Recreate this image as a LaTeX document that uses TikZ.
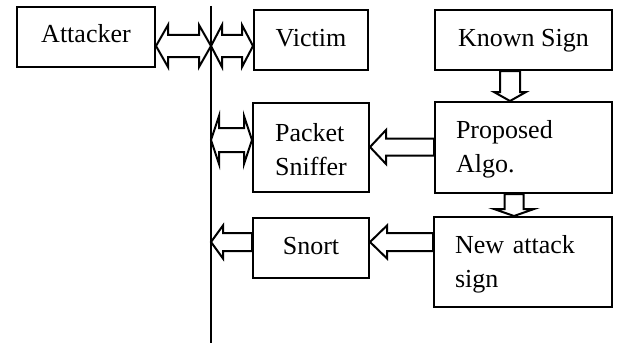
\documentclass[tikz,border=0pt]{standalone}
\usepackage{fontspec}
\setmainfont{Liberation Serif}
\usetikzlibrary{calc}

% hollow block arrows
% horizontal double arrow: #1 left tip, #2 right tip, #3 shaft half width, #4 head half width, #5 head length
\newcommand\dblarrow[5]{%
  \draw[arr] (#1) -- ($(#1)+(#5,-#4)$) -- ($(#1)+(#5,-#3)$) -- ($(#2)+(-#5,-#3)$)
    -- ($(#2)+(-#5,-#4)$) -- (#2) -- ($(#2)+(-#5,#4)$) -- ($(#2)+(-#5,#3)$)
    -- ($(#1)+(#5,#3)$) -- ($(#1)+(#5,#4)$) -- cycle;}
% left-pointing arrow: #1 tail, #2 tip
\newcommand\leftarrowblk[5]{%
  \draw[arr] (#2) -- ($(#2)+(#5,-#4)$) -- ($(#2)+(#5,-#3)$) -- ($(#1)+(0,-#3)$)
    -- ($(#1)+(0,#3)$) -- ($(#2)+(#5,#3)$) -- ($(#2)+(#5,#4)$) -- cycle;}
% down-pointing arrow: #1 tail, #2 tip
\newcommand\downarrowblk[5]{%
  \draw[arr] (#2) -- ($(#2)+(-#4,-#5)$) -- ($(#2)+(-#3,-#5)$) -- ($(#1)+(-#3,0)$)
    -- ($(#1)+(#3,0)$) -- ($(#2)+(#3,-#5)$) -- ($(#2)+(#4,-#5)$) -- cycle;}
% taller first line, so two-line labels sit a little lower
\newcommand\tallstrut{\rule{0pt}{22pt}}

\begin{document}
\begin{tikzpicture}[x=1pt,y=-1pt,
  box/.style={draw,line width=2pt,inner sep=0pt,
    font=\fontsize{26}{34}\selectfont},
  single/.style={box,text height=18pt,text depth=6pt},
  multi/.style={box,align=left},
  arr/.style={draw,line width=2pt,fill=white,line join=miter}]
\useasboundingbox (0,0) rectangle (617,345);

% network bus
\coordinate (bus) at (211,6);
\coordinate (busend) at (211,343);
\draw[line width=2pt] (bus) -- (busend);

% blocks
\node[single,minimum width=138pt,minimum height=60pt] (att) at (86,37) {Attacker};
\node[single,minimum width=114pt,minimum height=60pt] (vic) at (311,40) {Victim};
\node[multi,minimum width=116pt,minimum height=89pt] (sniff) at (311,147.5) {\tallstrut Packet\\Sniffer};
\node[single,minimum width=116pt,minimum height=60pt] (snort) at (311,248) {Snort};
\node[single,minimum width=177pt,minimum height=60pt] (known) at (523.5,40) {Known Sign};
\node[multi,minimum width=177pt,minimum height=91pt,text width=135pt,inner xsep=21pt] (algo) at (523.5,147.5) {\tallstrut Proposed\\Algo.};
\node[multi,minimum width=178pt,minimum height=90pt,text width=136pt,inner xsep=21pt] (newsig) at (523,262) {\tallstrut New attack\\sign};

% attachment points of the arrows
\coordinate (a1) at ($(att.east)+(0,9)$);
\coordinate (a2) at (bus |- a1);
\coordinate (v1) at ($(vic.west)+(0,6)$);
\coordinate (v0) at (bus |- v1);
\coordinate (p1) at ($(sniff.west)+(0,-7.5)$);
\coordinate (p0) at (bus |- p1);
\coordinate (s1) at ($(snort.west)+(0,-6)$);
\coordinate (s0) at (bus |- s1);
\coordinate (k1) at ($(known.south)+(-13.5,0)$);
\coordinate (k2) at (k1 |- algo.north);
\coordinate (g1) at ($(algo.south)+(-9.5,0)$);
\coordinate (g2) at (g1 |- newsig.north);
\coordinate (g3) at ($(algo.west)+(0,-0.5)$);
\coordinate (g4) at (sniff.east |- g3);
\coordinate (n1) at ($(newsig.west)+(0,-20)$);
\coordinate (n2) at (snort.east |- n1);

% arrows
\dblarrow{a1}{a2}{11}{21}{12}
\dblarrow{v0}{v1}{11}{21}{11}
\dblarrow{p0}{p1}{12}{24}{8}
\leftarrowblk{s1}{s0}{9}{16.5}{12}
\downarrowblk{k1}{k2}{10}{16}{9}
\downarrowblk{g1}{g2}{9.5}{20}{7}
\leftarrowblk{g3}{g4}{8.5}{17}{16}
\leftarrowblk{n1}{n2}{9}{16.5}{17}
\end{tikzpicture}
\end{document}
